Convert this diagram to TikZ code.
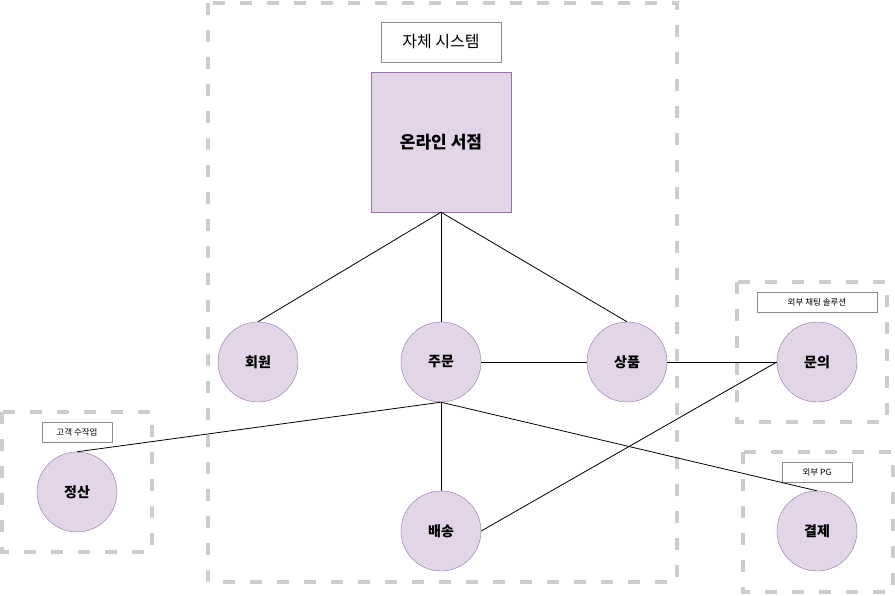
\documentclass[tikz,border=0pt]{standalone}
\usepackage{fontspec}
\setmainfont{Noto Sans CJK KR}
\begin{document}
\begin{tikzpicture}[x=1pt,y=-1pt,
  grp/.style={draw=black!20,line width=4pt,dash pattern=on 12pt off 15pt},
  lbl/.style={draw=black!45,fill=white,line width=0.7pt,inner sep=0pt},
  ent/.style={circle,draw=violet!55!black!70,draw={rgb,255:red,150;green,115;blue,166},fill={rgb,255:red,225;green,213;blue,231},minimum size=80pt,inner sep=0pt,font=\bfseries\fontsize{14}{16}\selectfont},
  conn/.style={draw=black,line width=0.8pt}]
\useasboundingbox (0,0) rectangle (895,595);
% groups
\draw[grp] (208,3) rectangle (677,582);
\draw[grp] (737,282) rectangle (887,422);
\draw[grp] (2,412) rectangle (152,552);
\draw[grp] (743,452) rectangle (893,592);
% labels
\node[lbl,minimum width=120pt,minimum height=40pt,font=\fontsize{16}{18}\selectfont] (sys) at (441,42) {자체 시스템};
\node[lbl,minimum width=120pt,minimum height=20pt,font=\fontsize{8.5}{10}\selectfont] (chat) at (817,302) {외부 채팅 솔루션};
\node[lbl,minimum width=70pt,minimum height=20pt,font=\fontsize{8.5}{10}\selectfont] (manual) at (77,432) {고객 수작업};
\node[lbl,minimum width=70pt,minimum height=20pt,font=\fontsize{8.5}{10}\selectfont] (pg) at (817,472) {외부 PG};
% main
\node[draw={rgb,255:red,150;green,115;blue,166},fill={rgb,255:red,225;green,213;blue,231},minimum width=140pt,minimum height=140pt,inner sep=0pt,font=\bfseries\fontsize{17}{20}\selectfont] (store) at (441,142) {온라인 서점};
\node[ent] (member) at (258,362) {회원};
\node[ent] (order) at (441,362) {주문};
\node[ent] (product) at (627,362) {상품};
\node[ent] (inquiry) at (817,362) {문의};
\node[ent] (settle) at (77,492) {정산};
\node[ent] (ship) at (441,531) {배송};
\node[ent] (pay) at (817,531) {결제};
% connectors
\draw[conn] (store.south) -- (member.north);
\draw[conn] (store.south) -- (order.north);
\draw[conn] (store.south) -- (product.north);
\draw[conn] (order.east) -- (product.west);
\draw[conn] (product.east) -- (inquiry.west);
\draw[conn] (order.south) -- (settle.north);
\draw[conn] (order.south) -- (ship.north);
\draw[conn] (order.south) -- (pay.north);
\draw[conn] (ship.east) -- (inquiry.west);
\end{tikzpicture}
\end{document}
